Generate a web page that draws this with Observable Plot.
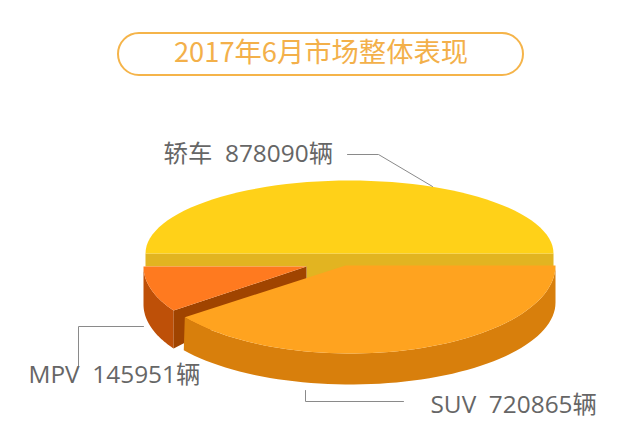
<!DOCTYPE html>
<html><head><meta charset="utf-8">
<style>html,body{margin:0;padding:0;background:#fff}svg{display:block}</style>
<script src="https://cdn.jsdelivr.net/npm/d3@7"></script>
<script src="https://cdn.jsdelivr.net/npm/@observablehq/plot@0.6"></script>
</head><body><script>
const title = "2017年6月市场整体表现";
const categories = ["轿车","SUV","MPV"];
const sales = [878090,720865,145951];
const unit = "辆";
const total = d3.sum(sales);
const sweep = sales.map(v => v / total * 360);
const rad = d => d * Math.PI / 180;
const arc = (c, a0, a1) => d3.range(0, 61).map(i => {
  const a = rad(a0 + (a1 - a0) * i / 60);
  return [c.x + c.rx * Math.cos(a), c.y + c.ry * Math.sin(a)];
});
const sedan = {x:349, y:253, rx:204, ry:73};
const suvTop = {x:350, y:265, rx:205, ry:88};
const suvBot = {x:350, y:302, rx:205, ry:82};
const mpvTop = {x:306, y:266, rx:163, ry:76};
const mpvBot = {x:306, y:304, rx:163, ry:76};
const suvEnd = sweep[1] - 4.8;
const mpvEnd = 180 - (sweep[2] + 5.3);
const suvTopArc = arc(suvTop, 0, suvEnd);
const suvBotArc = arc(suvBot, 0, suvEnd + 0.5);
const mpvTopArc = arc(mpvTop, 180, mpvEnd);
const mpvBotArc = arc(mpvBot, 180, mpvEnd);
const mpvCorner = mpvTopArc[60], mpvLow = mpvBotArc[60];
const poly = (pts, fill) => Plot.line(pts, {x:d=>d[0], y:d=>d[1], fill, stroke:"none", curve:"linear"});
const labelStyle = {fontFamily:"'Open Sans','Noto Sans CJK SC',sans-serif", fontSize:24.4, fill:"#666", textAnchor:"start"};
const leaders = [
  [[347,154],[378,154],[432,186]],
  [[78,366],[78,326],[143,326]],
  [[305,390],[305,401],[403,401]]
];
const labelAt = [[163,154],[430,405],[28,375]];
const chart = Plot.plot({
  width:640, height:448, margin:0,
  x:{domain:[0,640], range:[0,640], axis:null},
  y:{domain:[0,448], range:[0,448], axis:null},
  style:{background:"#fff"},
  marks:[
    Plot.rect([0],{x1:118,x2:523,y1:33,y2:75,rx:21,fill:"none",stroke:"#F5B44A",strokeWidth:2}),
    Plot.text([title],{x:320.5,y:53,text:d=>d,fontFamily:"'Noto Sans CJK SC',sans-serif",fontSize:27.3,fill:"#F3B04A"}),
    poly([[sedan.x-sedan.rx,sedan.y],[sedan.x+sedan.rx,sedan.y],[sedan.x+sedan.rx,suvTop.y+1],[suvTop.x-5,suvTop.y+1],[mpvTop.x,mpvTop.y+14],[mpvTop.x,mpvTop.y],[sedan.x-sedan.rx,mpvTop.y]],"#E2B421"),
    poly(arc(sedan,180,360),"#FFD118"),
    poly([...mpvTopArc,...mpvBotArc.slice().reverse()],"#BE5008"),
    poly([mpvCorner,[mpvTop.x,mpvTop.y],[mpvTop.x,mpvTop.y+14],mpvLow,[mpvCorner[0],mpvLow[1]]],"#A04400"),
    poly([[mpvTop.x,mpvTop.y],...mpvTopArc],"#FF7A1F"),
    poly([...suvTopArc,...suvBotArc.slice().reverse()],"#D87F0C"),
    poly([[suvTop.x-5,suvTop.y],...suvTopArc],"#FFA31F"),
    ...leaders.map(l=>Plot.line(l,{x:d=>d[0],y:d=>d[1],stroke:"#8a8a8a",strokeWidth:1})),
    ...categories.map((c,i)=>Plot.text([`${c}  ${sales[i]}${unit}`],{x:labelAt[i][0],y:labelAt[i][1],text:d=>d,...labelStyle}))
  ]
});
document.body.appendChild(chart);
</script></body></html>
